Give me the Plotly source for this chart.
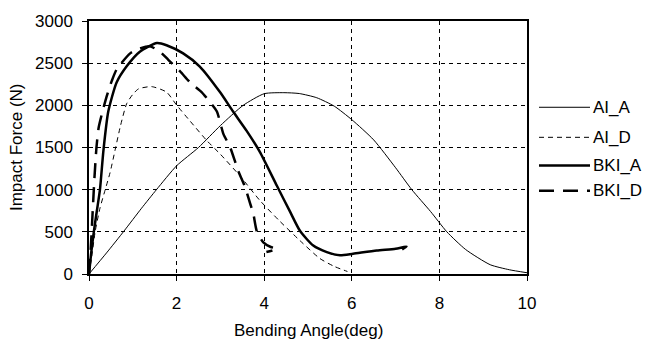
import plotly.graph_objects as go

# ---- data ----
ai_a_x = [0, 0.4, 0.8, 1.2, 1.54, 2.0, 2.5, 3.0, 3.52, 4.0, 4.45, 4.8, 5.2, 5.6, 6.0, 6.5, 7.0, 7.37, 7.8, 8.17, 8.6, 9.16, 9.6, 10]
ai_a_y = [0, 250, 510, 780, 1000, 1283, 1500, 1760, 2000, 2138, 2150, 2140, 2090, 1990, 1830, 1590, 1260, 1000, 740, 500, 290, 110, 50, 15]

ai_d_x = [0, 0.06, 0.14, 0.25, 0.37, 0.48, 0.6, 0.72, 0.86, 1.0, 1.13, 1.43, 1.77, 2.0, 2.31, 2.69, 3.0, 3.45, 3.9, 4.36, 4.82, 5.27, 5.6, 5.9]
ai_d_y = [0, 200, 500, 780, 1000, 1200, 1480, 1760, 2020, 2130, 2195, 2222, 2157, 2003, 1812, 1582, 1420, 1161, 873, 624, 394, 184, 90, 30]

bki_a_x = [0, 0.05, 0.11, 0.18, 0.25, 0.33, 0.44, 0.63, 0.86, 1.16, 1.55, 1.77, 2.15, 2.53, 2.99, 3.29, 3.6, 3.9, 4.29, 4.59, 4.82, 5.12, 5.43, 5.73, 6.03, 6.57, 7.0, 7.25, 7.15]
bki_a_y = [0, 250, 500, 750, 1000, 1467, 1926, 2271, 2463, 2636, 2739, 2713, 2616, 2460, 2157, 1926, 1697, 1448, 1046, 739, 509, 337, 260, 222, 241, 279, 300, 325, 290]

bki_d_x = [0, 0.04, 0.08, 0.12, 0.17, 0.22, 0.29, 0.4, 0.52, 0.63, 0.94, 1.16, 1.39, 1.62, 1.81, 2.08, 2.31, 2.57, 2.76, 2.92, 3.07, 3.22, 3.41, 3.55, 3.68, 3.75, 3.83, 3.98, 4.15, 4.29, 4.05]
bki_d_y = [0, 300, 700, 1100, 1500, 1735, 1889, 2100, 2290, 2425, 2616, 2673, 2701, 2636, 2540, 2402, 2271, 2157, 2041, 1926, 1659, 1506, 1218, 1050, 834, 720, 509, 375, 320, 299, 260]

series_names = ["AI_A", "AI_D", "BKI_A", "BKI_D"]
x_ticks = [0, 2, 4, 6, 8, 10]
y_ticks = [0, 500, 1000, 1500, 2000, 2500, 3000]

FONT = "Liberation Sans, Arial, sans-serif"
styles = [
    dict(width=1, dash="solid"),
    dict(width=1, dash="5px,4px"),
    dict(width=2.5, dash="solid"),
    dict(width=2.5, dash="15px,9px"),
]

fig = go.Figure()
for name, xs, ys, st in zip(series_names,
                            [ai_a_x, ai_d_x, bki_a_x, bki_d_x],
                            [ai_a_y, ai_d_y, bki_a_y, bki_d_y],
                            styles):
    fig.add_trace(go.Scatter(x=xs, y=ys, mode="lines", name=name,
                             line=dict(color="black", width=st["width"], dash=st["dash"], shape="spline", smoothing=0.6),
                             showlegend=False))

# manual legend (long line samples like the reference)
L, R, T, B = 89, 527, 13, 274
pw, ph = R - L, B - T
def px2x(p): return (p - L) / pw
def py2y(p): return (B - p) / ph
legend_y = [102, 133, 162, 188]
for name, ly, st in zip(series_names, legend_y, styles):
    fig.add_shape(type="line", xref="paper", yref="paper",
                  x0=px2x(539), x1=px2x(590), y0=py2y(ly), y1=py2y(ly),
                  line=dict(color="black", width=st["width"], dash=st["dash"]))
    fig.add_annotation(xref="paper", yref="paper", x=px2x(591), y=py2y(ly),
                       text=name, showarrow=False, xanchor="left", yanchor="middle",
                       font=dict(family=FONT, size=17, color="black"))

fig.add_annotation(xref="paper", yref="paper", x=0.5, y=py2y(332),
                   text="Bending Angle(deg)", showarrow=False, xanchor="center", yanchor="middle",
                   font=dict(family=FONT, size=17, color="black"))
fig.add_annotation(xref="paper", yref="paper", x=px2x(16), y=py2y(143),
                   text="Impact Force (N)", showarrow=False, xanchor="center", yanchor="middle",
                   textangle=-90, font=dict(family=FONT, size=17, color="black"))

axis_common = dict(showline=True, linecolor="black", linewidth=1.5, mirror=True,
                   ticks="outside", ticklen=5, tickwidth=1, tickcolor="black",
                   showgrid=True, gridcolor="black", gridwidth=1,
                   zeroline=False, tickfont=dict(family=FONT, size=17, color="black"))
fig.update_xaxes(range=[0, 10], tickvals=x_ticks, griddash="4px,4px", ticklabelstandoff=8, **axis_common)
fig.update_yaxes(range=[0, 3000], tickvals=y_ticks, griddash="4px,4px", ticklabelstandoff=6, **axis_common)

fig.update_layout(width=645, height=347, margin=dict(l=L, r=645 - R, t=T, b=347 - B),
                  paper_bgcolor="white", plot_bgcolor="white", showlegend=False,
                  font=dict(family=FONT, color="black"))

fig.write_html("out.html")
